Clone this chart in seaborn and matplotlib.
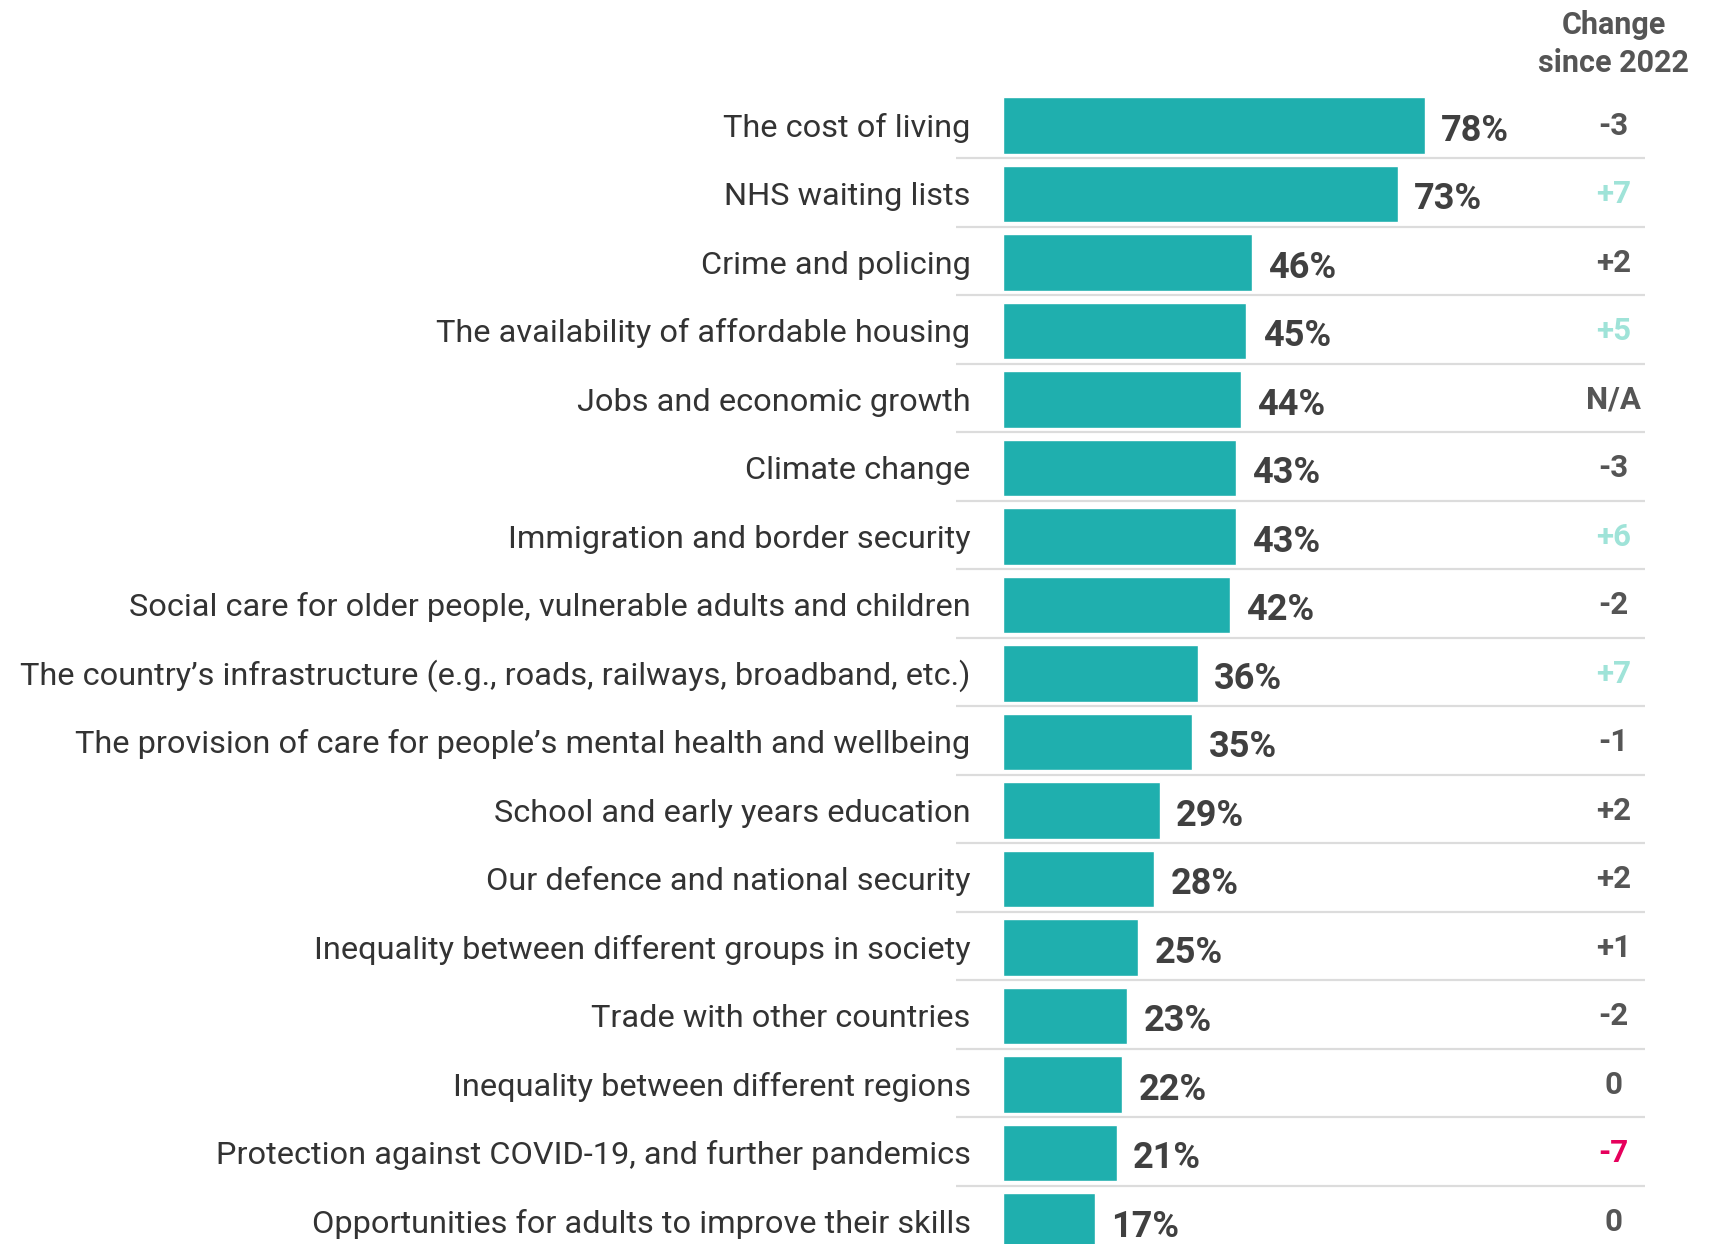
import matplotlib
matplotlib.use("Agg")
import matplotlib.pyplot as plt
import seaborn as sns
import pandas as pd

# Share naming each issue as a priority, and change in points since 2022
issues = [
    "The cost of living",
    "NHS waiting lists",
    "Crime and policing",
    "The availability of affordable housing",
    "Jobs and economic growth",
    "Climate change",
    "Immigration and border security",
    "Social care for older people, vulnerable adults and children",
    "The country\u2019s infrastructure (e.g., roads, railways, broadband, etc.)",
    "The provision of care for people\u2019s mental health and wellbeing",
    "School and early years education",
    "Our defence and national security",
    "Inequality between different groups in society",
    "Trade with other countries",
    "Inequality between different regions",
    "Protection against COVID-19, and further pandemics",
    "Opportunities for adults to improve their skills",
]
shares = [78, 73, 46, 45, 44, 43, 43, 42, 36, 35, 29, 28, 25, 23, 22, 21, 17]
changes = [-3, 7, 2, 5, None, -3, 6, -2, 7, -1, 2, 2, 1, -2, 0, -7, 0]
change_header = "Change\nsince 2022"

BAR = "#1FAFAE"
UP = "#9FE3D8"
DOWN = "#E6005C"
NEUTRAL = "#555555"
LABEL = "#333333"
VALUE = "#404040"
RULE = "#DCDCDC"

sns.set_theme(style="white")
plt.rcParams["font.family"] = ["Roboto", "DejaVu Sans"]

df = pd.DataFrame({"issue": issues, "share": shares})

fig = plt.figure(figsize=(17.11, 12.44), dpi=100)
ax = fig.add_axes([956 / 1711, 0.0, 689 / 1711, 1.0])

sns.barplot(data=df, x="share", y="issue", orient="h", color=BAR,
            saturation=1, width=0.83, ax=ax)

n = len(issues)
ax.set_xlim(-8.69, 118.67)
ax.set_ylim(16.328, -1.832)
ax.set_yticks([])
ax.set_xticks([])
ax.set_xlabel("")
ax.set_ylabel("")
for s in ax.spines.values():
    s.set_visible(False)

change_x = 112.9

for i, (name, val, chg) in enumerate(zip(issues, shares, changes)):
    ax.text(-6.0, i + 0.163, name, ha="right", va="baseline",
            fontsize=23.4, color=LABEL)
    ax.text(val + 3.0, i + 0.22, f"{val}%", ha="left", va="baseline",
            fontsize=26, fontweight="bold", color=VALUE)
    if chg is None:
        txt, col = "N/A", NEUTRAL
    else:
        txt = f"+{chg}" if chg > 0 else (f"-{-chg}" if chg < 0 else "0")
        col = UP if chg >= 5 else (DOWN if chg <= -5 else NEUTRAL)
    ax.text(change_x, i + 0.135, txt, ha="center", va="baseline",
            fontsize=22.5, fontweight="bold", color=col)
    if i < n - 1:
        ax.plot([-8.69, 118.67], [i + 0.48, i + 0.48], color=RULE,
                lw=1.6, solid_capstyle="butt", zorder=0)

head1, head2 = change_header.split("\n")
ax.text(change_x, -1.331, head1, ha="center", va="baseline",
        fontsize=22, fontweight="bold", color=NEUTRAL, clip_on=False)
ax.text(change_x, -0.785, head2, ha="center", va="baseline",
        fontsize=22, fontweight="bold", color=NEUTRAL, clip_on=False)

fig.savefig("out.png", dpi=100, facecolor="white")
